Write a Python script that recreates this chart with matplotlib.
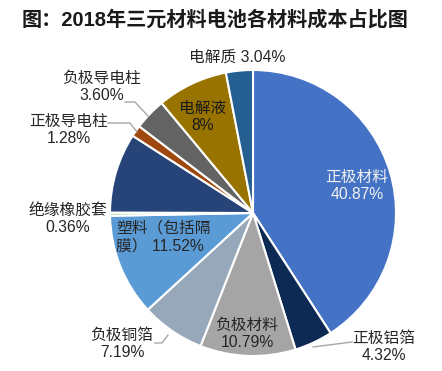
import matplotlib.pyplot as plt

plt.rcParams["font.family"] = ["Liberation Sans", "Noto Sans CJK SC", "DejaVu Sans"]

names = ["正极材料", "正极铝箔", "负极材料", "负极铜箔", "塑料（包括隔膜）", "绝缘橡胶套",
         "其他", "正极导电柱", "负极导电柱", "电解液", "电解质"]
shares = [40.87, 4.32, 10.79, 7.19, 11.52, 0.36, 9.03, 1.28, 3.60, 8.00, 3.04]
label_text = ["正极材料\n40.87%", "正极铝箔\n4.32%", "负极材料\n10.79%", "负极铜箔\n7.19%",
              "塑料（包括隔\n膜） 11.52%", "绝缘橡胶套\n0.36%", "", "正极导电柱\n1.28%",
              "负极导电柱\n3.60%", "电解液\n8%", "电解质 3.04%"]

colors = ["#4472C4", "#0D2A55", "#A5A5A5", "#97A8BA", "#5B9BD5", "#A9D18E",
          "#264478", "#9E480E", "#636363", "#997300", "#255E91"]

W, H = 442, 371

# label layout in image pixels (x, y from top), alignment, colour
layout = {
    "正极材料": (357, 186, "center", "#F2F2F2"),
    "正极铝箔": (384, 347, "center", "#262626"),
    "负极材料": (247, 334, "center", "#262626"),
    "负极铜箔": (122, 344, "center", "#262626"),
    "塑料（包括隔膜）": (116, 237, "left", "#262626"),
    "绝缘橡胶套": (68, 219, "center", "#262626"),
    "正极导电柱": (69, 130, "center", "#262626"),
    "负极导电柱": (102, 87, "center", "#262626"),
    "电解液": (203, 117, "center", "#1A1A1A"),
    "电解质": (237, 57, "center", "#262626"),
}
leaders = {
    "负极导电柱": [(125, 102), (135, 102), (148, 116)],
    "正极导电柱": [(108, 123), (130, 123), (137, 132)],
    "负极铜箔": [(155, 343), (162, 343), (168, 335)],
    "正极铝箔": [(352, 342), (313, 347)],
}

fig = plt.figure(figsize=(W / 100, H / 100), dpi=100)
ax = fig.add_axes([0, 0, 1, 1])

ax.pie(shares, colors=colors, startangle=90, counterclock=False,
       center=(253, H - 213), radius=143,
       wedgeprops=dict(edgecolor="white", linewidth=1.5))
ax.set_xlim(0, W)
ax.set_ylim(0, H)
ax.axis("off")

for name, txt in zip(names, label_text):
    if name not in layout:
        continue
    x, y, ha, c = layout[name]
    ax.text(x, H - y, txt, ha=ha, va="center", fontsize=11.3, color=c,
            linespacing=1.2, multialignment=ha)

for pts in leaders.values():
    ax.plot([p[0] for p in pts], [H - p[1] for p in pts], color="#A6A6A6", lw=1)

ax.text(22, H - 20, "图：2018年三元材料电池各材料成本占比图", ha="left", va="center",
        fontsize=14.5, fontweight="bold", color="#1A1A1A")

fig.savefig("out.png", dpi=100)
